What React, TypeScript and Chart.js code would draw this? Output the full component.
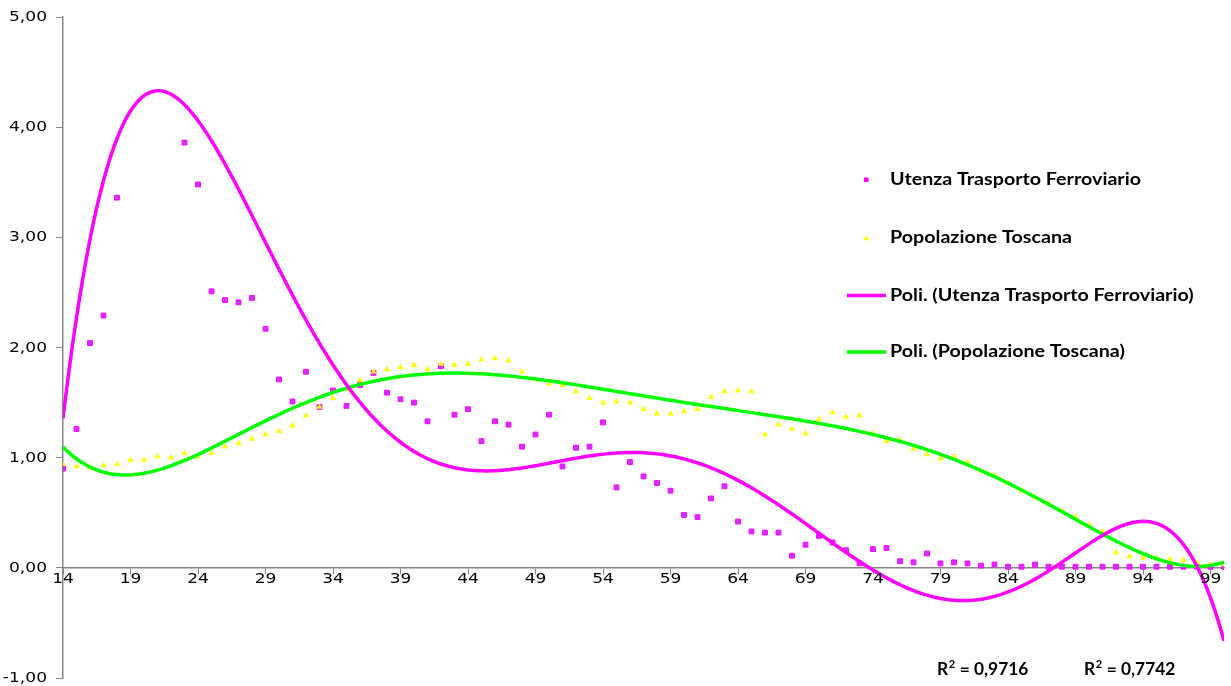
import React, { useEffect, useRef } from 'react';
import { Chart, registerables } from 'chart.js';

Chart.register(...registerables);

const ages = [
  14, 15, 16, 17, 18, 19, 20, 21, 22, 23, 24, 25, 26, 27, 28, 29, 30, 31, 32, 33,
  34, 35, 36, 37, 38, 39, 40, 41, 42, 43, 44, 45, 46, 47, 48, 49, 50, 51, 52, 53,
  54, 55, 56, 57, 58, 59, 60, 61, 62, 63, 64, 65, 66, 67, 68, 69, 70, 71, 72, 73,
  74, 75, 76, 77, 78, 79, 80, 81, 82, 83, 84, 85, 86, 87, 88, 89, 90, 91, 92, 93,
  94, 95, 96, 97, 98, 99, 100,
];

// null = no marker visible in the reference (hidden under the trendline peak)
const utenza: (number | null)[] = [
  0.90, 1.26, 2.04, 2.29, 3.36, null, null, null, null, 3.86, 3.48, 2.51, 2.43, 2.41, 2.45, 2.17, 1.71, 1.51, 1.78, 1.46,
  1.61, 1.47, 1.66, 1.77, 1.59, 1.53, 1.50, 1.33, 1.83, 1.39, 1.44, 1.15, 1.33, 1.30, 1.10, 1.21, 1.39, 0.92, 1.09, 1.10,
  1.32, 0.73, 0.96, 0.83, 0.77, 0.70, 0.48, 0.46, 0.63, 0.74, 0.42, 0.33, 0.32, 0.32, 0.11, 0.21, 0.29, 0.23, 0.16, 0.04,
  0.17, 0.18, 0.06, 0.05, 0.13, 0.04, 0.05, 0.04, 0.02, 0.03, 0.01, 0.01, 0.03, 0.01, 0.01, 0.01, 0.01, 0.01, 0.01, 0.01,
  0.01, 0.01, 0.01, 0.01, 0.01, 0.01, 0.01,
];

const popolazione = [
  0.94, 0.92, 0.91, 0.93, 0.94, 0.98, 0.98, 1.01, 1.00, 1.04, 1.01, 1.04, 1.10, 1.13, 1.17, 1.21, 1.24, 1.29, 1.38, 1.46,
  1.54, 1.62, 1.70, 1.78, 1.80, 1.82, 1.84, 1.80, 1.85, 1.84, 1.85, 1.89, 1.90, 1.88, 1.78, 1.71, 1.67, 1.66, 1.60, 1.54,
  1.50, 1.51, 1.50, 1.44, 1.40, 1.40, 1.42, 1.44, 1.55, 1.60, 1.61, 1.60, 1.21, 1.30, 1.26, 1.22, 1.35, 1.41, 1.37, 1.38,
  1.22, 1.15, 1.16, 1.08, 1.03, 0.99, 1.01, 0.96, 0.88, 0.84, 0.77, 0.70, 0.64, 0.58, 0.52, 0.46, 0.39, 0.33, 0.14, 0.10,
  0.09, 0.09, 0.08, 0.07, 0.05, 0.03, 0.03,
];

// Polynomial trendline of "Utenza" at each age
const utenzaTrend = [
  1.27, 2.33, 3.05, 3.57, 3.90, 4.10, 4.24, 4.30, 4.27, 4.19, 4.05, 3.87, 3.68, 3.46, 3.23, 3.00, 2.76, 2.51, 2.26, 2.01,
  1.80, 1.64, 1.49, 1.35, 1.22, 1.13, 1.05, 0.98, 0.94, 0.91, 0.89, 0.88, 0.88, 0.89, 0.91, 0.93, 0.96, 0.98, 1.00, 1.02,
  1.04, 1.05, 1.06, 1.06, 1.05, 1.03, 1.00, 0.96, 0.91, 0.86, 0.79, 0.71, 0.63, 0.55, 0.47, 0.38, 0.29, 0.21, 0.12, 0.05,
  -0.02, -0.08, -0.13, -0.18, -0.23, -0.27, -0.29, -0.30, -0.29, -0.27, -0.22, -0.16, -0.09, -0.02, 0.07, 0.15, 0.23, 0.30, 0.35, 0.38,
  0.39, 0.37, 0.32, 0.22, 0.03, -0.23, -0.68,
];

const xTickValues = [14, 19, 24, 29, 34, 39, 44, 49, 54, 59, 64, 69, 74, 79, 84, 89, 94, 99];
const yTickValues = [-1, 0, 1, 2, 3, 4, 5];
const seriesNames = ['Utenza Trasporto Ferroviario', 'Popolazione Toscana'];
const trendNames = ['Poli. (Utenza Trasporto Ferroviario)', 'Poli. (Popolazione Toscana)'];
const rSquaredValues = ['0,9716', '0,7742'];
const trendOrder = 6;

const MAGENTA = '#FF00FF';
const YELLOW = '#FFFF00';
const GREEN = '#00FF00';
const AXIS = '#868686';

function polyfit(xsIn: number[], ysIn: (number | null)[], deg: number) {
  const xs: number[] = [];
  const ys: number[] = [];
  xsIn.forEach((x, i) => {
    const y = ysIn[i];
    if (y !== null && y !== undefined) {
      xs.push(x);
      ys.push(y);
    }
  });
  const cx = 57;
  const sx = 43;
  const n = deg + 1;
  const A: number[][] = [];
  for (let i = 0; i < n; i++) A.push(new Array(n + 1).fill(0));
  for (let k = 0; k < xs.length; k++) {
    const t = (xs[k] - cx) / sx;
    const pw = [1];
    for (let i = 1; i < 2 * n; i++) pw.push(pw[i - 1] * t);
    for (let i = 0; i < n; i++) {
      for (let j = 0; j < n; j++) A[i][j] += pw[i + j];
      A[i][n] += pw[i] * ys[k];
    }
  }
  for (let col = 0; col < n; col++) {
    let piv = col;
    for (let r = col + 1; r < n; r++) if (Math.abs(A[r][col]) > Math.abs(A[piv][col])) piv = r;
    const tmp = A[col];
    A[col] = A[piv];
    A[piv] = tmp;
    for (let r = 0; r < n; r++) {
      if (r === col) continue;
      const f = A[r][col] / A[col][col];
      for (let c = col; c <= n; c++) A[r][c] -= f * A[col][c];
    }
  }
  const coef = A.map((row, i) => row[n] / row[i]);
  return (x: number) => {
    const t = (x - cx) / sx;
    let s = 0;
    for (let i = n - 1; i >= 0; i--) s = s * t + coef[i];
    return s;
  };
}

function trendPoints(ys: (number | null)[]) {
  const f = polyfit(ages, ys, trendOrder);
  const pts: { x: number; y: number }[] = [];
  const lo = ages[0];
  const hi = ages[ages.length - 1];
  for (let x = lo; x <= hi + 1e-9; x += 0.25) pts.push({ x, y: f(x) });
  return pts;
}

function drawText(
  ctx: CanvasRenderingContext2D,
  text: string,
  x: number,
  y: number,
  font: string,
  sx: number,
  align: 'left' | 'right' | 'center',
) {
  ctx.save();
  ctx.font = font;
  const w = ctx.measureText(text).width * sx;
  const left = align === 'right' ? x - w : align === 'center' ? x - w / 2 : x;
  ctx.translate(left, y);
  ctx.scale(sx, 1);
  ctx.textAlign = 'left';
  ctx.fillText(text, 0, 0);
  ctx.restore();
  return w;
}

const textPlugin = {
  id: 'customText',
  afterDraw(chart: any) {
    const ctx = chart.ctx as CanvasRenderingContext2D;
    const xs = chart.scales.x;
    const ys = chart.scales.y;
    ctx.save();
    ctx.fillStyle = '#000';
    ctx.textBaseline = 'middle';

    // axis tick labels
    const tickFont = '14px "DejaVu Sans"';
    const tickSx = 1.22;
    yTickValues.forEach((v) => {
      drawText(ctx, v.toFixed(2).replace('.', ','), 47, ys.getPixelForValue(v) + 0.5, tickFont, tickSx, 'right');
    });
    const y0 = ys.getPixelForValue(0);
    xTickValues.forEach((v) => {
      drawText(ctx, String(v), xs.getPixelForValue(v), y0 + 12, tickFont, tickSx, 'center');
    });

    // legend
    const legendFont = 'bold 16.5px Lato';
    ctx.font = legendFont;
    const legendSx = 251 / ctx.measureText(seriesNames[0]).width;
    const tx = 890;
    const rows = [180, 238, 295.5, 352];
    ctx.fillStyle = MAGENTA;
    ctx.fillRect(864, 177.5, 4.5, 4.5);
    ctx.fillStyle = YELLOW;
    ctx.beginPath();
    ctx.moveTo(866.3, 235.3);
    ctx.lineTo(869, 240.3);
    ctx.lineTo(863.6, 240.3);
    ctx.closePath();
    ctx.fill();
    ctx.lineWidth = 3.5;
    ctx.strokeStyle = MAGENTA;
    ctx.beginPath();
    ctx.moveTo(847, rows[2]);
    ctx.lineTo(886, rows[2]);
    ctx.stroke();
    ctx.strokeStyle = GREEN;
    ctx.beginPath();
    ctx.moveTo(847, rows[3]);
    ctx.lineTo(886, rows[3]);
    ctx.stroke();
    ctx.fillStyle = '#000';
    const labels = [seriesNames[0], seriesNames[1], trendNames[0], trendNames[1]];
    labels.forEach((l, i) => drawText(ctx, l, tx, rows[i], legendFont, legendSx, 'left'));

    // R squared labels
    ctx.textBaseline = 'alphabetic';
    const rFont = 'bold 16.5px Lato';
    const supFont = 'bold 10.5px Lato';
    const rSx = 1.05;
    [937, 1084].forEach((x, i) => {
      let cx = x;
      cx += drawText(ctx, 'R', cx, 675, rFont, rSx, 'left');
      cx += 0.5;
      cx += drawText(ctx, '2', cx, 667.5, supFont, rSx, 'left');
      drawText(ctx, ' = ' + rSquaredValues[i], cx + 0.5, 675, rFont, rSx, 'left');
    });
    ctx.restore();
  },
};

export default function App() {
  const canvasRef = useRef<HTMLCanvasElement | null>(null);

  useEffect(() => {
    const canvas = canvasRef.current;
    if (!canvas) return;
    const chart = new Chart(canvas, {
      type: 'scatter',
      data: {
        datasets: [
          {
            label: trendNames[0],
            type: 'line',
            data: trendPoints(utenzaTrend),
            borderColor: MAGENTA,
            borderWidth: 3.5,
            pointRadius: 0,
            showLine: true,
            tension: 0,
            fill: false,
            order: 0,
          } as any,
          {
            label: trendNames[1],
            type: 'line',
            data: trendPoints(popolazione),
            borderColor: GREEN,
            borderWidth: 3.5,
            pointRadius: 0,
            showLine: true,
            tension: 0,
            fill: false,
            order: 1,
          } as any,
          {
            label: seriesNames[1],
            data: ages.map((x, i) => ({ x, y: popolazione[i] })),
            pointStyle: 'triangle',
            pointRadius: 3.6,
            backgroundColor: YELLOW,
            borderColor: YELLOW,
            borderWidth: 0,
            order: 2,
          },
          {
            label: seriesNames[0],
            data: ages.map((x, i) => ({ x, y: utenza[i] })),
            pointStyle: 'rect',
            pointRadius: 3.4,
            backgroundColor: '#CC33FF',
            borderColor: MAGENTA,
            borderWidth: 1,
            order: 3,
          } as any,
        ],
      },
      options: {
        animation: false,
        responsive: false,
        devicePixelRatio: 1,
        layout: { padding: { left: 0, right: 7, top: 17, bottom: 8 } },
        plugins: { legend: { display: false }, tooltip: { enabled: false } },
        scales: {
          x: {
            type: 'linear',
            min: 14,
            max: 100,
            position: { y: 0 } as any,
            afterBuildTicks: (s: any) => {
              s.ticks = xTickValues.map((v) => ({ value: v }));
            },
            afterFit: (s: any) => {
              s.paddingLeft = 0;
              s.paddingRight = 0;
            },
            ticks: { display: false, autoSkip: false, maxRotation: 0 },
            grid: { drawOnChartArea: false, drawTicks: true, tickLength: 6, color: AXIS, lineWidth: 1 },
            border: { color: AXIS, width: 1.5 },
          },
          y: {
            type: 'linear',
            min: -1,
            max: 5,
            afterBuildTicks: (s: any) => {
              s.ticks = yTickValues.map((v) => ({ value: v }));
            },
            ticks: { display: false },
            afterFit: (s: any) => {
              s.width = 63;
              s.paddingTop = 0;
              s.paddingBottom = 0;
            },
            grid: { drawOnChartArea: false, drawTicks: true, tickLength: 7, color: AXIS, lineWidth: 1 },
            border: { color: AXIS, width: 1.5 },
          },
        },
      },
      plugins: [textPlugin],
    });
    return () => chart.destroy();
  }, []);

  return (
    <div style={{ position: 'fixed', left: 0, top: 0, width: 1231, height: 686, background: '#fff' }}>
      <canvas ref={canvasRef} width={1231} height={686} style={{ display: 'block' }} />
    </div>
  );
}
